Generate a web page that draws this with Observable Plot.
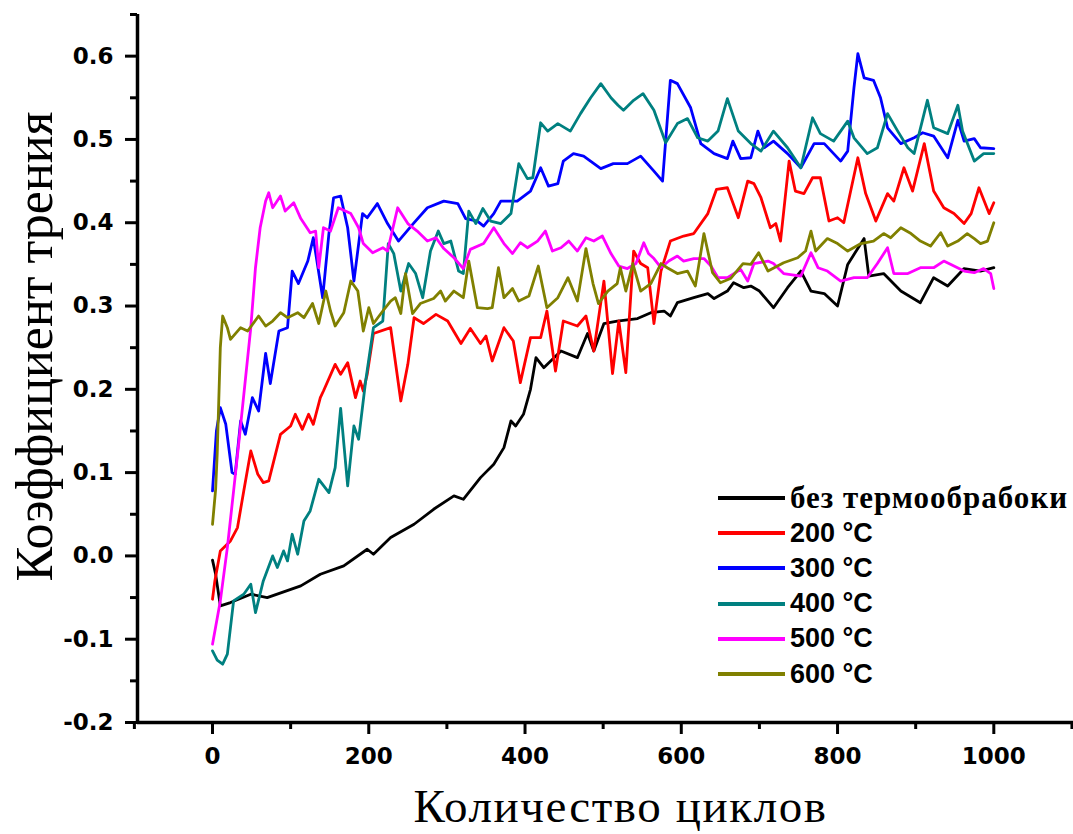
<!DOCTYPE html>
<html>
<head>
<meta charset="utf-8">
<script src="https://cdn.jsdelivr.net/npm/d3@7"></script>
<script src="https://cdn.jsdelivr.net/npm/@observablehq/plot@0.6"></script>
<style>
  html, body { margin: 0; padding: 0; background: #fff; }
  #wrap { position: relative; width: 1073px; height: 834px; overflow: hidden; }
  #legend { position: absolute; left: 718px; top: 480px; }
  .lrow { position: absolute; left: 0; height: 36px; white-space: nowrap; display: flex; align-items: center; }
  .lline { width: 67px; height: 4px; margin-right: 5px; }
  .ltext { font-family: "Liberation Sans", Arial, sans-serif; font-weight: bold; font-size: 27px; color: #000; }
  .ltext.serif { font-family: "Liberation Serif", "Times New Roman", serif; font-size: 31px; letter-spacing: 1px; }
</style>
</head>
<body>
<div id="wrap"><div id="chart"></div><div id="legend"></div></div>
<script>
const seriesNames = ["без термообрабоки", "200 °C", "300 °C", "400 °C", "500 °C", "600 °C"];
const seriesColors = ["#000000", "#ff0000", "#0000ff", "#008080", "#ff00ff", "#808000"];

const xTitle = "Количество циклов";
const yTitle = "Коэффициент трения";
const xTicks = [0, 200, 400, 600, 800, 1000];
const xMinorTicks = [-100, 100, 300, 500, 700, 900, 1100];
const yTicks = [-0.2, -0.1, 0.0, 0.1, 0.2, 0.3, 0.4, 0.5, 0.6];
const yMinorTicks = [-0.15, -0.05, 0.05, 0.15, 0.25, 0.35, 0.45, 0.55, 0.65];
const xDomain = [-96, 1102];
const yDomain = [-0.2, 0.65];

const s0 = [[0,-0.005],[4,-0.022],[10,-0.06],[23,-0.056],[49,-0.046],[70,-0.05],[113,-0.036],[138,-0.022],[168,-0.012],[198,0.008],[206,0.002],[228,0.022],[258,0.038],[283,0.056],[309,0.072],[321,0.068],[343,0.094],[360,0.11],[373,0.13],[382,0.162],[388,0.156],[398,0.17],[407,0.2],[414,0.238],[424,0.226],[446,0.246],[467,0.238],[480,0.267],[488,0.246],[501,0.279],[518,0.282],[544,0.285],[561,0.292],[578,0.294],[586,0.288],[595,0.304],[616,0.31],[634,0.315],[642,0.309],[659,0.318],[667,0.328],[680,0.322],[689,0.324],[700,0.318],[718,0.298],[736,0.322],[753,0.342],[766,0.318],[783,0.315],[800,0.30],[813,0.35],[834,0.381],[840,0.336],[859,0.339],[881,0.318],[906,0.304],[923,0.334],[941,0.324],[962,0.345],[983,0.342],[1000,0.346]];

const s200 = [[0,-0.052],[3,-0.03],[10,0.006],[23,0.018],[32,0.034],[40,0.078],[49,0.126],[58,0.098],[65,0.088],[72,0.09],[87,0.146],[100,0.156],[106,0.17],[115,0.152],[123,0.17],[129,0.158],[138,0.19],[142,0.198],[157,0.23],[164,0.218],[173,0.232],[183,0.19],[189,0.21],[193,0.198],[198,0.218],[206,0.267],[228,0.274],[241,0.186],[250,0.23],[258,0.286],[270,0.279],[286,0.29],[301,0.282],[318,0.255],[330,0.273],[343,0.255],[350,0.264],[358,0.234],[373,0.274],[385,0.258],[394,0.208],[407,0.262],[420,0.262],[428,0.294],[439,0.222],[449,0.282],[467,0.276],[478,0.288],[488,0.246],[501,0.33],[512,0.219],[520,0.282],[529,0.22],[539,0.366],[548,0.351],[557,0.346],[565,0.279],[574,0.342],[586,0.378],[603,0.384],[616,0.387],[634,0.411],[645,0.44],[659,0.442],[673,0.406],[685,0.45],[693,0.447],[702,0.43],[714,0.394],[721,0.399],[727,0.378],[738,0.474],[746,0.438],[757,0.435],[768,0.454],[778,0.454],[789,0.402],[800,0.406],[808,0.4],[826,0.478],[836,0.435],[849,0.402],[864,0.435],[872,0.426],[885,0.466],[896,0.438],[911,0.495],[923,0.438],[936,0.418],[949,0.411],[962,0.399],[971,0.411],[981,0.442],[994,0.411],[1000,0.424]];

const s300 = [[0,0.078],[5,0.15],[10,0.178],[17,0.158],[25,0.1],[29,0.098],[36,0.162],[42,0.146],[51,0.19],[59,0.174],[68,0.243],[74,0.207],[85,0.27],[96,0.274],[102,0.342],[110,0.327],[122,0.354],[129,0.382],[141,0.31],[149,0.387],[155,0.43],[164,0.432],[173,0.394],[181,0.33],[192,0.411],[198,0.406],[211,0.423],[224,0.399],[238,0.378],[257,0.399],[275,0.418],[296,0.426],[314,0.423],[324,0.405],[339,0.402],[347,0.396],[360,0.411],[369,0.426],[390,0.426],[407,0.438],[420,0.466],[430,0.444],[442,0.447],[449,0.474],[462,0.483],[475,0.48],[497,0.465],[513,0.471],[531,0.471],[548,0.48],[565,0.462],[576,0.45],[586,0.571],[595,0.567],[612,0.538],[625,0.495],[642,0.483],[659,0.477],[666,0.498],[676,0.477],[689,0.478],[698,0.51],[706,0.49],[718,0.498],[736,0.483],[753,0.466],[770,0.495],[783,0.495],[804,0.474],[813,0.486],[821,0.562],[826,0.603],[834,0.574],[846,0.571],[855,0.55],[864,0.514],[881,0.495],[898,0.502],[909,0.508],[923,0.504],[941,0.478],[954,0.523],[962,0.498],[975,0.501],[983,0.49],[1000,0.489]];

const s400 = [[0,-0.114],[6,-0.125],[13,-0.13],[19,-0.118],[27,-0.054],[40,-0.046],[49,-0.034],[55,-0.068],[65,-0.03],[77,0.0],[83,-0.014],[91,0.006],[96,-0.006],[102,0.026],[109,0.002],[117,0.042],[125,0.054],[136,0.092],[149,0.076],[157,0.106],[164,0.177],[173,0.084],[181,0.156],[187,0.14],[196,0.21],[206,0.274],[218,0.282],[225,0.375],[232,0.363],[241,0.318],[251,0.351],[260,0.339],[269,0.31],[279,0.366],[289,0.39],[296,0.375],[305,0.378],[315,0.342],[321,0.339],[328,0.414],[337,0.399],[346,0.417],[356,0.402],[369,0.399],[382,0.411],[392,0.471],[403,0.453],[410,0.454],[420,0.52],[429,0.51],[442,0.519],[458,0.51],[471,0.531],[484,0.55],[497,0.567],[510,0.55],[519,0.541],[526,0.535],[539,0.547],[551,0.555],[565,0.535],[580,0.496],[595,0.519],[608,0.525],[621,0.502],[634,0.498],[647,0.51],[659,0.549],[673,0.51],[689,0.495],[702,0.486],[718,0.51],[736,0.49],[753,0.466],[768,0.526],[778,0.507],[795,0.498],[813,0.522],[821,0.502],[838,0.483],[851,0.49],[864,0.531],[877,0.51],[890,0.49],[898,0.483],[915,0.547],[923,0.514],[941,0.507],[954,0.541],[960,0.51],[975,0.474],[987,0.483],[1000,0.483]];

const s500 = [[0,-0.106],[10,-0.054],[19,0.01],[27,0.078],[33,0.13],[40,0.193],[49,0.274],[55,0.346],[61,0.394],[68,0.426],[72,0.436],[77,0.418],[87,0.432],[93,0.414],[104,0.424],[113,0.405],[125,0.388],[132,0.39],[136,0.346],[142,0.394],[151,0.39],[161,0.418],[177,0.411],[187,0.394],[193,0.375],[205,0.364],[218,0.37],[224,0.366],[237,0.418],[250,0.399],[262,0.39],[275,0.378],[286,0.382],[296,0.369],[309,0.358],[321,0.345],[330,0.368],[347,0.375],[360,0.394],[373,0.375],[384,0.363],[394,0.376],[403,0.37],[416,0.378],[426,0.39],[435,0.366],[446,0.37],[456,0.378],[467,0.366],[478,0.382],[488,0.378],[499,0.384],[510,0.363],[520,0.348],[531,0.345],[542,0.351],[552,0.376],[558,0.363],[565,0.357],[574,0.346],[584,0.354],[595,0.36],[603,0.354],[616,0.357],[629,0.357],[638,0.348],[647,0.334],[659,0.334],[676,0.344],[685,0.33],[693,0.351],[711,0.354],[718,0.351],[731,0.339],[753,0.336],[766,0.364],[775,0.346],[787,0.342],[804,0.33],[821,0.334],[838,0.334],[851,0.351],[864,0.37],[872,0.339],[890,0.339],[906,0.346],[923,0.346],[936,0.354],[949,0.348],[962,0.342],[975,0.34],[987,0.345],[996,0.339],[1000,0.321]];

const s600 = [[0,0.038],[4,0.08],[6,0.122],[10,0.25],[13,0.288],[19,0.274],[23,0.26],[36,0.274],[45,0.27],[59,0.288],[68,0.276],[77,0.282],[87,0.292],[96,0.286],[109,0.292],[117,0.286],[128,0.303],[136,0.279],[145,0.318],[151,0.294],[157,0.276],[168,0.292],[177,0.33],[186,0.318],[193,0.27],[200,0.298],[206,0.279],[218,0.294],[228,0.306],[234,0.31],[241,0.291],[247,0.339],[256,0.291],[266,0.303],[283,0.309],[292,0.318],[298,0.306],[309,0.318],[321,0.31],[328,0.354],[339,0.298],[352,0.297],[358,0.298],[366,0.346],[373,0.31],[384,0.321],[392,0.306],[405,0.312],[417,0.348],[428,0.298],[442,0.31],[455,0.334],[467,0.306],[478,0.369],[487,0.327],[494,0.303],[506,0.318],[518,0.327],[522,0.346],[529,0.318],[538,0.351],[548,0.318],[561,0.327],[574,0.351],[582,0.346],[595,0.339],[608,0.342],[618,0.324],[629,0.387],[640,0.34],[650,0.328],[663,0.333],[679,0.351],[689,0.35],[699,0.364],[711,0.342],[731,0.352],[749,0.358],[759,0.366],[766,0.39],[772,0.366],[787,0.381],[800,0.375],[813,0.366],[830,0.375],[846,0.378],[859,0.387],[868,0.382],[881,0.394],[894,0.387],[906,0.378],[919,0.372],[932,0.388],[941,0.372],[954,0.378],[966,0.387],[975,0.381],[983,0.375],[992,0.378],[1000,0.4]];

const seriesData = [s0, s200, s300, s400, s500, s600];

const table = seriesData.flatMap((arr, i) => arr.map(([x, y]) => ({x, y, series: seriesNames[i]})));

const tickFont = {fontFamily: "DejaVu Sans, sans-serif", fontWeight: "bold", fontSize: 23};

const chart = Plot.plot({
  width: 1073,
  height: 834,
  marginLeft: 137,
  marginRight: 0,
  marginTop: 14,
  marginBottom: 112,
  style: {background: "#fff", color: "#000", fontFamily: "DejaVu Sans, sans-serif"},
  x: {domain: xDomain},
  y: {domain: yDomain},
  color: {domain: seriesNames, range: seriesColors},
  marks: [
    Plot.line(table, {x: "x", y: "y", z: "series", stroke: "series", strokeWidth: 2.8, strokeLinejoin: "round"}),
    Plot.axisY({ticks: yTicks, tickSize: 12, tickPadding: 12, strokeWidth: 3, tickFormat: d => d.toFixed(1), label: null, ...tickFont}),
    Plot.axisY({ticks: yMinorTicks, tickSize: 7, strokeWidth: 3, text: null, label: null}),
    Plot.axisX({ticks: xTicks, tickSize: 12, tickPadding: 13, strokeWidth: 3, tickFormat: d => String(d), label: null, ...tickFont}),
    Plot.axisX({ticks: xMinorTicks, tickSize: 7, strokeWidth: 3, text: null, label: null}),
    Plot.ruleX([xDomain[0]], {stroke: "#000", strokeWidth: 3.5}),
    Plot.ruleY([yDomain[0]], {stroke: "#000", strokeWidth: 3.5}),
    Plot.text([yTitle], {text: d => d, frameAnchor: "left", textAnchor: "middle", lineAnchor: "middle", rotate: -90, dx: -102, dy: -22, fontFamily: "Liberation Serif, Times New Roman, serif", fontSize: 52, fill: "#000"}),
    Plot.text([xTitle], {text: d => d, frameAnchor: "bottom", textAnchor: "middle", lineAnchor: "middle", dx: 15, dy: 84, fontFamily: "Liberation Serif, Times New Roman, serif", fontSize: 47, fill: "#000"})
  ]
});
document.getElementById("chart").appendChild(chart);
chart.querySelectorAll("text").forEach(t => {
  if (t.textContent === xTitle) t.style.letterSpacing = "1.6px";
});

const legend = document.getElementById("legend");
seriesNames.forEach((name, i) => {
  const row = document.createElement("div");
  row.className = "lrow";
  row.style.top = (i * 35.2) + "px";
  const line = document.createElement("div");
  line.className = "lline";
  line.style.background = seriesColors[i];
  const txt = document.createElement("span");
  txt.className = "ltext" + (i === 0 ? " serif" : "");
  txt.textContent = name;
  row.appendChild(line);
  row.appendChild(txt);
  legend.appendChild(row);
});
</script>
</body>
</html>
